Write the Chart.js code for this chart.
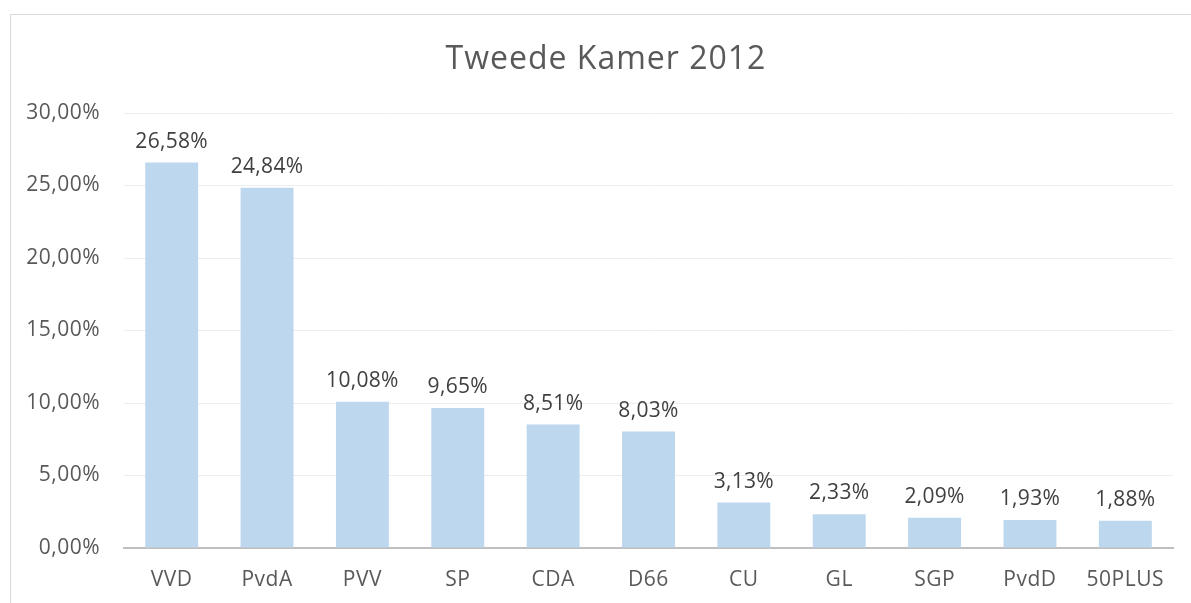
<!DOCTYPE html>
<html>
<head>
<meta charset="utf-8">
<script src="https://cdn.jsdelivr.net/npm/chart.js@4/dist/chart.umd.min.js"></script>
<style>
  html, body { margin: 0; padding: 0; background: #fff; overflow: hidden; width: 1191px; height: 603px; }
  #frame { position: absolute; left: 10px; top: 14px; width: 1200px; height: 620px; border: 1.5px solid #D9D9D9; box-sizing: border-box; }
  #wrap { position: absolute; left: 10px; top: 14px; width: 1190px; height: 600px; }
</style>
</head>
<body>
<div id="frame"></div>
<div id="wrap"><canvas id="c" width="1190" height="600"></canvas></div>
<script>
const titleText = "Tweede Kamer 2012";
const categories = ["VVD", "PvdA", "PVV", "SP", "CDA", "D66", "CU", "GL", "SGP", "PvdD", "50PLUS"];
const values = [26.58, 24.84, 10.08, 9.65, 8.51, 8.03, 3.13, 2.33, 2.09, 1.93, 1.88];
const yMin = 0, yMax = 30, yStep = 5;

const fmt = v => v.toFixed(2).replace('.', ',') + '%';
const FONT = "'Open Sans', 'Liberation Sans', sans-serif";

const spacingPlugin = {
  id: 'spacing',
  beforeDraw(chart) { chart.ctx.letterSpacing = '0.5px'; }
};

const titlePlugin = {
  id: 'spacedTitle',
  afterDraw(chart) {
    const ctx = chart.ctx;
    ctx.save();
    ctx.letterSpacing = '1px';
    ctx.font = "32px " + FONT;
    ctx.fillStyle = "#595959";
    ctx.textAlign = "center";
    ctx.textBaseline = "alphabetic";
    ctx.fillText(titleText, chart.width / 2 + 1, 55);
    ctx.restore();
  }
};

const labelPlugin = {
  id: 'barLabels',
  afterDatasetsDraw(chart) {
    const ctx = chart.ctx;
    const meta = chart.getDatasetMeta(0);
    ctx.save();
    ctx.letterSpacing = '0.3px';
    ctx.font = "21px " + FONT;
    ctx.fillStyle = "#404040";
    ctx.textAlign = "center";
    ctx.textBaseline = "alphabetic";
    meta.data.forEach((bar, i) => {
      ctx.fillText(fmt(values[i]), bar.x, bar.y - 15);
    });
    ctx.restore();
  }
};

new Chart(document.getElementById('c'), {
  type: 'bar',
  data: {
    labels: categories,
    datasets: [{
      data: values,
      backgroundColor: '#BDD7EE',
      borderWidth: 0,
      barPercentage: 0.555,
      categoryPercentage: 1.0
    }]
  },
  options: {
    responsive: false,
    animation: false,
    devicePixelRatio: 1,
    layout: { padding: { left: 0, right: 27, top: 99, bottom: 20 } },
    plugins: {
      legend: { display: false },
      tooltip: { enabled: false },
      title: { display: false }
    },
    scales: {
      x: {
        grid: { display: false, drawTicks: false },
        border: { display: true, color: '#BFBFBF', width: 2 },
        ticks: { color: '#595959', font: { family: FONT, size: 21 }, padding: 19, maxRotation: 0 },
        afterFit(s) { s.height = 46; }
      },
      y: {
        min: yMin, max: yMax,
        grid: { color: '#EDEDED', lineWidth: 1, drawTicks: false },
        border: { display: false },
        ticks: { stepSize: yStep, color: '#595959', font: { family: FONT, size: 21 }, padding: 24, callback: v => fmt(v) },
        afterFit(s) { s.width = 114; }
      }
    }
  },
  plugins: [spacingPlugin, labelPlugin, titlePlugin]
});
</script>
</body>
</html>
